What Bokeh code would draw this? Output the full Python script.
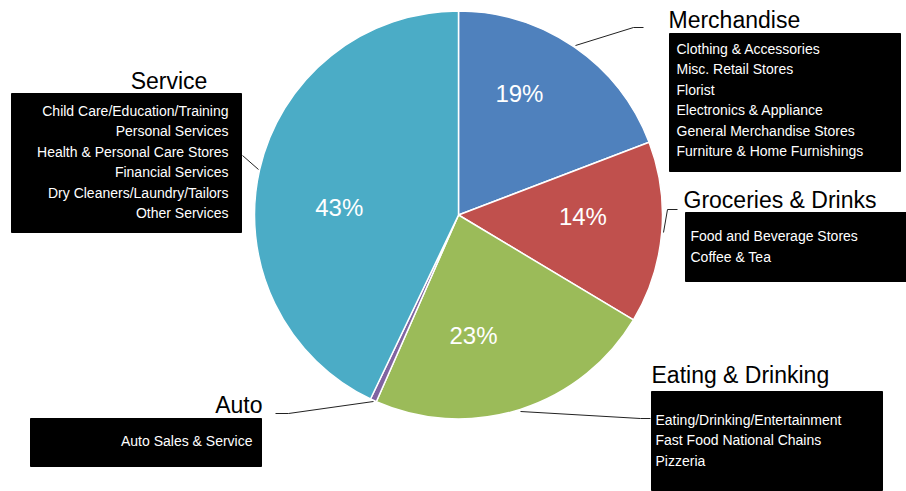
import math
from bokeh.plotting import figure
from bokeh.models import Range1d, ColumnDataSource
from bokeh.core.properties import value
from bokeh.embed import file_html
from bokeh.resources import INLINE

# ---------------- data ----------------
categories = ["Merchandise", "Groceries & Drinks", "Eating & Drinking", "Auto", "Service"]
shares = [19.2, 14.4, 23.0, 0.5, 42.9]
pct_labels = ["19%", "14%", "23%", "", "43%"]

merch_items = ["Clothing & Accessories", "Misc. Retail Stores", "Florist",
               "Electronics & Appliance", "General Merchandise Stores",
               "Furniture & Home Furnishings"]
grocery_items = ["Food and Beverage Stores", "Coffee & Tea"]
eating_items = ["Eating/Drinking/Entertainment", "Fast Food National Chains", "Pizzeria"]
auto_items = ["Auto Sales & Service"]
service_items = ["Child Care/Education/Training", "Personal Services",
                 "Health & Personal Care Stores", "Financial Services",
                 "Dry Cleaners/Laundry/Tailors", "Other Services"]

colors = ["#4F81BD", "#C0504D", "#9BBB59", "#8064A2", "#4BACC6"]

# ---------------- layout ----------------
W, H = 906, 491
FONT = "Liberation Sans"


def X(px):
    return px


def Y(py):
    return H - py


CX, CY, R = X(458), Y(214.5), 204

p = figure(width=W, height=H, output_backend="svg", toolbar_location=None,
           x_range=Range1d(0, W), y_range=Range1d(0, H), min_border=0)
p.axis.visible = False
p.grid.visible = False
p.outline_line_color = None
p.background_fill_color = "white"
p.border_fill_color = "white"

# wedges: start at 12 o'clock, clockwise
total = sum(shares)
starts, ends = [], []
cum = 0.0
for s in shares:
    a_hi = math.pi / 2 - 2 * math.pi * cum / total
    cum += s
    a_lo = math.pi / 2 - 2 * math.pi * cum / total
    starts.append(a_lo)
    ends.append(a_hi)

src = ColumnDataSource(dict(start=starts, end=ends, color=colors, cat=categories))
p.wedge(x=CX, y=CY, radius=R, start_angle="start", end_angle="end",
        direction="anticlock", fill_color="color", line_color="white",
        line_width=1.5, source=src)

# percentage labels (polar placement: angle deg, fraction of radius)
label_polar = [(63.4, 0.667), (-0.9, 0.61), (-82.9, 0.595), (0, 0), (176.2, 0.586)]
lx, ly, lt = [], [], []
for (ang, fr), t in zip(label_polar, pct_labels):
    if not t:
        continue
    lx.append(CX + fr * R * math.cos(math.radians(ang)))
    ly.append(CY + fr * R * math.sin(math.radians(ang)))
    lt.append(t)
p.text(x=lx, y=ly, text=lt, text_color="white", text_font=value(FONT),
       text_font_size="24px", text_align="center", text_baseline="middle")

# leader lines
leaders = [
    [(575, 45), (633, 27), (643, 27)],
    [(663, 232), (667, 209), (677, 209)],
    [(520, 411), (640, 418), (650, 418)],
    [(373, 401), (288, 413), (275, 413)],
    [(258, 169), (242, 155)],
]
for seg in leaders:
    p.line([X(a) for a, b in seg], [Y(b) for a, b in seg], line_color="#222222", line_width=1)

# black boxes (left, right, top, bottom in page px)
boxes = [(669, 900, 33, 171), (685, 906, 212, 281), (651, 882, 391, 490),
         (30, 261, 418, 466), (11, 241, 93, 232)]
p.quad(left=[X(b[0]) for b in boxes], right=[X(b[1]) for b in boxes],
       top=[Y(b[2]) for b in boxes], bottom=[Y(b[3]) for b in boxes],
       fill_color="black", line_color="black")

# category titles: (x, middle y, align)
title_pos = [(668, 19, "left"), (683, 199.5, "left"), (651, 374.5, "left"),
             (262, 404.5, "right"), (168.5, 80.5, "center")]
for cat, (tx, ty, al) in zip(categories, title_pos):
    p.text(x=[X(tx)], y=[Y(ty)], text=[cat], text_color="black",
           text_font=value(FONT), text_font_size="23px", text_align=al,
           text_baseline="middle", level="overlay")

# items inside boxes: (x, first middle y, align)
item_lists = [merch_items, grocery_items, eating_items, auto_items, service_items]
item_pos = [(676, 48.3, "left"), (690, 235.7, "left"), (655, 419, "left"),
            (252, 440, "right"), (228, 110, "right")]
LINE_H = 20.5
for items, (tx, ty, al) in zip(item_lists, item_pos):
    p.text(x=[X(tx)] * len(items), y=[Y(ty + i * LINE_H) for i in range(len(items))],
           text=items, text_color="white", text_font=value(FONT),
           text_font_size="14px", text_align=al, text_baseline="middle",
           level="overlay")

open("out.html", "w").write(file_html(p, INLINE))
